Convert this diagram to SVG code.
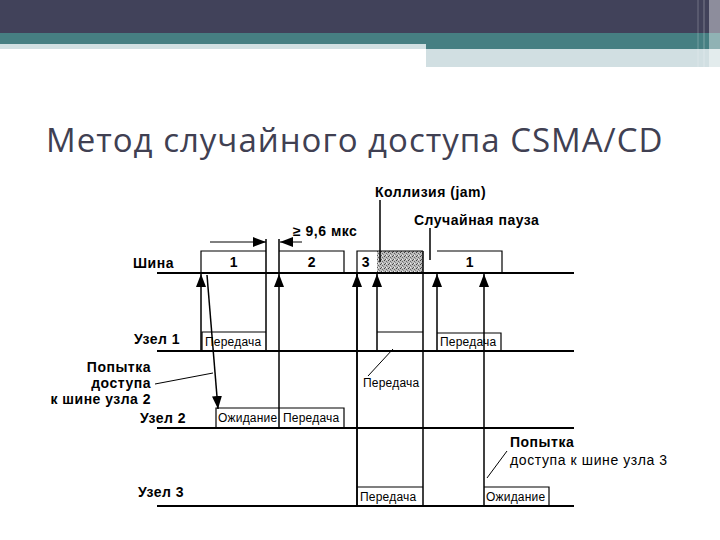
<svg xmlns="http://www.w3.org/2000/svg" width="720" height="540" viewBox="0 0 720 540">
<style>
.lbl{font-family:"Liberation Sans",Arial,sans-serif;font-weight:bold;font-size:14px;letter-spacing:0.5px;fill:#000}
.lbn{font-family:"Liberation Sans",Arial,sans-serif;font-size:14px;letter-spacing:0.6px;fill:#000}
.sm{font-family:"Liberation Sans",Arial,sans-serif;font-size:12px;letter-spacing:0.2px;fill:#000}
.row{stroke:#000;stroke-width:2;fill:none}
.ln{stroke:#000;stroke-width:1.5;fill:none}
.bx{stroke:#000;stroke-width:1.2;fill:none}
.thin{stroke:#000;stroke-width:1;fill:none}
</style>
<defs>
<marker id="ah" markerUnits="userSpaceOnUse" markerWidth="13" markerHeight="10" refX="13" refY="5" orient="auto">
<path d="M0,0 L13,5 L0,10 z" fill="#000"/>
</marker>
<pattern id="stip" width="4" height="4" patternUnits="userSpaceOnUse">
<rect width="4" height="4" fill="#bdbdbd"/>
<rect x="0" y="0" width="1" height="1" fill="#444"/>
<rect x="2" y="1" width="1" height="1" fill="#666"/>
<rect x="1" y="3" width="1" height="1" fill="#555"/>
<rect x="3" y="2" width="1" height="1" fill="#888"/>
<rect x="2" y="3" width="1" height="1" fill="#eee"/>
</pattern>
</defs>
<rect width="720" height="540" fill="#fff"/>
<g id="header">
<rect x="0" y="0" width="720" height="33" fill="#41425a"/>
<rect x="0" y="33" width="720" height="11" fill="#467f82"/>
<rect x="0" y="44" width="426" height="5" fill="#d1e0e2"/>
<rect x="426" y="44" width="294" height="5" fill="#467f82"/>
<rect x="426" y="49" width="294" height="18" fill="#d1dfe2"/>
<rect x="697" y="0" width="2" height="67" fill="#fff" opacity="0.12"/>
<rect x="703" y="0" width="2" height="67" fill="#fff" opacity="0.15"/>
<rect x="709" y="0" width="11" height="67" fill="#fff" opacity="0.4"/>
</g>
<text id="title" x="46" y="152" font-family="'Open Sans','DejaVu Sans',sans-serif" font-size="33" letter-spacing="1" fill="#404052">Метод случайного доступа CSMA/CD</text>
<g id="bus">
<rect x="377" y="251" width="46" height="22" fill="url(#stip)"/>
<path class="bx" d="M201,273 V251 H266 M279,251 H344 V273 M357,273 V251 H423 M437,251 H502 V273"/>
<text class="lbl" x="133" y="268">Шина</text>
<text class="lbl" x="234" y="267" text-anchor="middle">1</text>
<text class="lbl" x="312" y="267" text-anchor="middle">2</text>
<text class="lbl" x="366" y="267" text-anchor="middle">3</text>
<text class="lbl" x="470" y="267" text-anchor="middle">1</text>
<line class="row" x1="157" y1="273" x2="574" y2="273"/>
</g>
<g id="node1">
<line class="row" x1="157" y1="351" x2="574" y2="351"/>
<text class="lbl" x="134" y="344">Узел 1</text>
<path class="bx" d="M202,351 V332 H266 M377,332 H423 M437,333 H501 V351"/>
<text class="sm" x="205" y="346">Передача</text>
<text class="sm" x="440" y="346">Передача</text>
</g>
<g id="node2">
<line class="row" x1="157" y1="428" x2="574" y2="428"/>
<text class="lbl" x="140" y="423">Узел 2</text>
<path class="bx" d="M216,428 V408 H344 V428"/>
<text class="sm" x="218" y="422">Ожидание</text>
<text class="sm" x="283" y="422">Передача</text>
</g>
<g id="node3">
<line class="row" x1="157" y1="506" x2="574" y2="506"/>
<text class="lbl" x="138" y="497">Узел 3</text>
<path class="bx" d="M357,487 H423 M484,487 H549 V506"/>
<text class="sm" x="360" y="501">Передача</text>
<text class="sm" x="486" y="501">Ожидание</text>
</g>
<g id="annotations">
<text class="lbl" x="293" y="236">≥ 9,6 мкс</text>
<text class="lbl" x="375" y="197">Коллизия (jam)</text>
<text class="lbl" x="414" y="225">Случайная пауза</text>
<text class="lbl" x="151" y="372" text-anchor="end">Попытка</text>
<text class="lbl" x="151" y="388" text-anchor="end">доступа</text>
<text class="lbl" x="151" y="404" text-anchor="end">к шине узла 2</text>
<text class="sm" x="363" y="387">Передача</text>
<text class="lbl" x="510" y="447">Попытка</text>
<text class="lbn" x="510" y="465">доступа к шине узла 3</text>
</g>
<g id="connectors">
<line class="ln" x1="266" y1="239" x2="266" y2="351"/>
<line class="ln" x1="279" y1="239" x2="279" y2="273"/>
<line class="ln" x1="423" y1="251" x2="423" y2="506"/>
<line class="ln" x1="357" y1="273" x2="357" y2="506"/>
<line class="ln" x1="201" y1="351" x2="201" y2="274" marker-end="url(#ah)"/>
<line class="ln" x1="279" y1="428" x2="279" y2="274" marker-end="url(#ah)"/>
<line class="ln" x1="357" y1="506" x2="357" y2="274" marker-end="url(#ah)"/>
<line class="ln" x1="377" y1="351" x2="377" y2="274" marker-end="url(#ah)"/>
<line class="ln" x1="437" y1="351" x2="437" y2="274" marker-end="url(#ah)"/>
<line class="ln" x1="484" y1="506" x2="484" y2="274" marker-end="url(#ah)"/>
<line class="ln" x1="207" y1="275" x2="218" y2="409" marker-end="url(#ah)"/>
<line class="thin" x1="210" y1="242" x2="266" y2="242" marker-end="url(#ah)"/>
<line class="thin" x1="302" y1="242" x2="280" y2="242" marker-end="url(#ah)"/>
<line class="ln" x1="380" y1="200" x2="380" y2="262"/>
<line class="ln" x1="430" y1="228" x2="430" y2="260"/>
<line class="thin" x1="155" y1="384" x2="213" y2="373"/>
<line class="thin" x1="393" y1="349" x2="368" y2="376"/>
<line class="thin" x1="487" y1="478" x2="507" y2="451"/>
</g>
</svg>
